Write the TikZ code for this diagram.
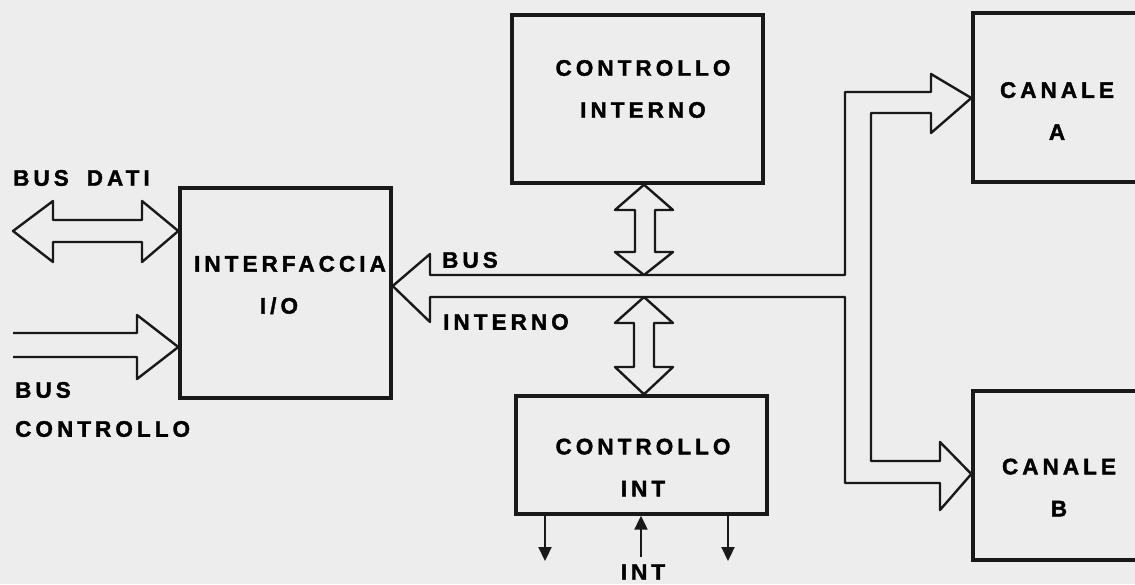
\documentclass[tikz,border=0pt]{standalone}
\usepackage{fontspec}
\newfontfamily\labelfont[LetterSpace=18, BoldFeatures={FakeBold=1.6}]{Liberation Sans}
\usetikzlibrary{arrows.meta}
\tikzset{
  unitbox/.style={rectangle, draw=black!90, line width=3.4pt, inner sep=0pt},
  buspath/.style={draw=black!90, line width=2.4pt, line join=round},
  sigline/.style={-{Triangle[length=14pt,width=13pt]}, line width=2.2pt, draw=black!90},
  lbl/.style={font=\labelfont\bfseries\fontsize{22.5}{42}\selectfont, align=center, inner sep=0pt},
  sidelbl/.style={font=\labelfont\bfseries\fontsize{22.5}{39}\selectfont, align=left, inner sep=0pt, anchor=west}
}

\begin{document}
\begin{tikzpicture}[x=1pt, y=-1pt]
  \useasboundingbox (0,0) rectangle (1135,584);
  \fill[black!7] (0,0) rectangle (1135,584);

  \node[unitbox, minimum width=211pt, minimum height=210pt] (io) at (285.5,293) {};
  \node[unitbox, minimum width=251pt, minimum height=168pt] (ctlin) at (637.5,99) {};
  \node[unitbox, minimum width=251pt, minimum height=118pt] (ctlint) at (641.5,455) {};
  \node[unitbox, minimum width=180pt, minimum height=169pt] (cha) at (1063,97.5) {};
  \node[unitbox, minimum width=180pt, minimum height=169pt] (chb) at (1063,475.5) {};

  \node[lbl] (iotxt) at (290,285) {INTERFACCIA\\\hspace*{-22pt}I/O};
  \node[lbl] (ctlintxt) at (643,89) {CONTROLLO\\INTERNO};
  \node[lbl] (ctlinttxt) at (643,467.5) {CONTROLLO\\INT};
  \node[lbl] (chatxt) at (1057,111) {CANALE\\A};
  \node[lbl] (chbtxt) at (1059,487.5) {CANALE\\B};
  \node[sidelbl] (datilbl) at (13,178) {BUS\hspace{18pt}DATI};
  \node[sidelbl] (ctlbuslbl) at (15,409.5) {BUS\\CONTROLLO};
  \node[sidelbl] (intbus1) at (442,260) {BUS};
  \node[sidelbl] (intbus2) at (443,322) {INTERNO};
  \node[lbl] (intlbl) at (643,572) {INT};

  \draw[buspath] (io.west |- 0,231) -- (142,262) -- (142,242) -- (53,242) -- (53,262)
    -- (13,231) -- (53,201) -- (53,220) -- (142,220) -- (142,201) -- cycle;
  \draw[buspath] (13,333) -- (137,333) -- (137,315) -- (io.west |- 0,347)
    -- (137,379) -- (137,357) -- (13,357);
  \draw[buspath] (io.east |- 0,286) -- (430,254) -- (430,275) -- (845,275) -- (845,92)
    -- (931,92) -- (931,74) -- (cha.west |- 0,98) -- (931,133) -- (931,113) -- (871,113)
    -- (871,461) -- (940,461) -- (940,442) -- (chb.west |- 0,474) -- (940,510)
    -- (940,483) -- (845,483) -- (845,297) -- (430,297) -- (430,322) -- cycle;
  \draw[buspath] (ctlin.south -| 644,0) -- (673,210) -- (655,210) -- (655,252) -- (673,252)
    -- (644,275) -- (615,252) -- (635,252) -- (635,210) -- (615,210) -- cycle;
  \draw[buspath] (644,297) -- (673,323) -- (654,323) -- (654,367) -- (673,367)
    -- (ctlint.north -| 644,0) -- (615,367) -- (634,367) -- (634,323) -- (615,323) -- cycle;

  \coordinate (out1) at (545,561);
  \coordinate (out2) at (728,561);
  \coordinate (intin) at (641,557);
  \draw[sigline] (ctlint.south -| out1) -- (out1);
  \draw[sigline] (ctlint.south -| out2) -- (out2);
  \draw[sigline] (intin) -- (ctlint.south -| intin);
\end{tikzpicture}
\end{document}
